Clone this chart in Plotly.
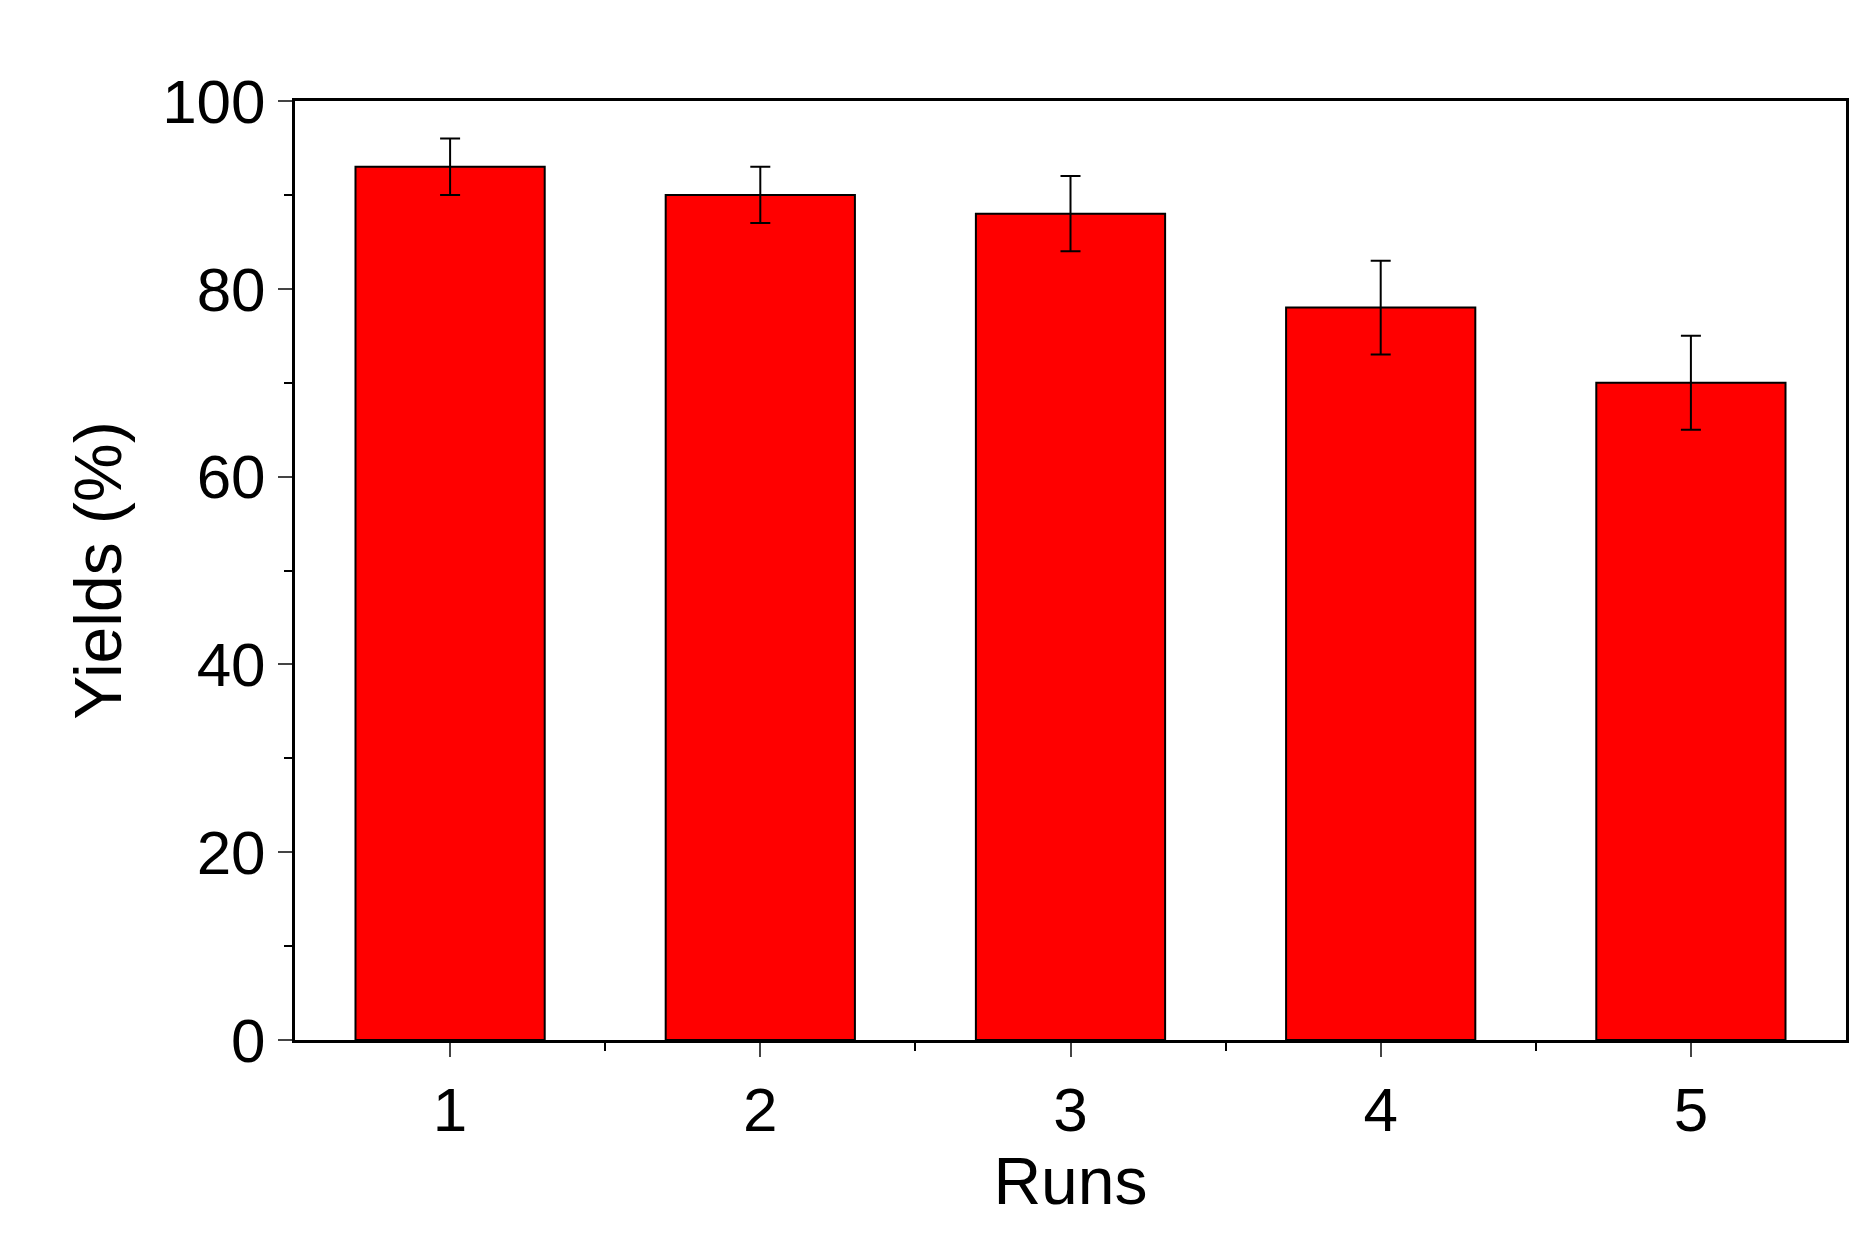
import plotly.graph_objects as go

runs = [1, 2, 3, 4, 5]
yields = [93, 90, 88, 78, 70]
errors = [3, 3, 4, 5, 5]

fig = go.Figure(go.Bar(
    x=runs, y=yields, width=0.61,
    marker=dict(color="#ff0000", line=dict(color="black", width=2)),
    error_y=dict(type="data", array=errors, color="black", thickness=2, width=10),
))
font = "Liberation Sans, Arial, sans-serif"
fig.update_layout(
    width=1868, height=1248, plot_bgcolor="white", paper_bgcolor="white",
    margin=dict(l=287, r=30, t=93, b=216), showlegend=False,
    font=dict(family=font, color="black"),
)
fig.update_xaxes(range=[0.5, 5.5], tickvals=runs, ticks="outside", ticklen=14, tickwidth=2,
                 showline=True, linecolor="black", linewidth=3, mirror=True, showgrid=False,
                 tickfont=dict(size=62), title=dict(text="Runs", font=dict(size=66), standoff=5),
                 minor=dict(tickvals=[1.5, 2.5, 3.5, 4.5], ticks="outside", ticklen=8, tickwidth=2, tickcolor="black"))
fig.update_yaxes(range=[0, 100], dtick=20, ticks="outside", ticklen=14, tickwidth=2,
                 showline=True, linecolor="black", linewidth=3, mirror=True, showgrid=False,
                 tickfont=dict(size=62), title=dict(text="Yields (%)", font=dict(size=66), standoff=20),
                 minor=dict(dtick=10, ticks="outside", ticklen=8, tickwidth=2, tickcolor="black", showgrid=False))
fig.write_html("out.html")
